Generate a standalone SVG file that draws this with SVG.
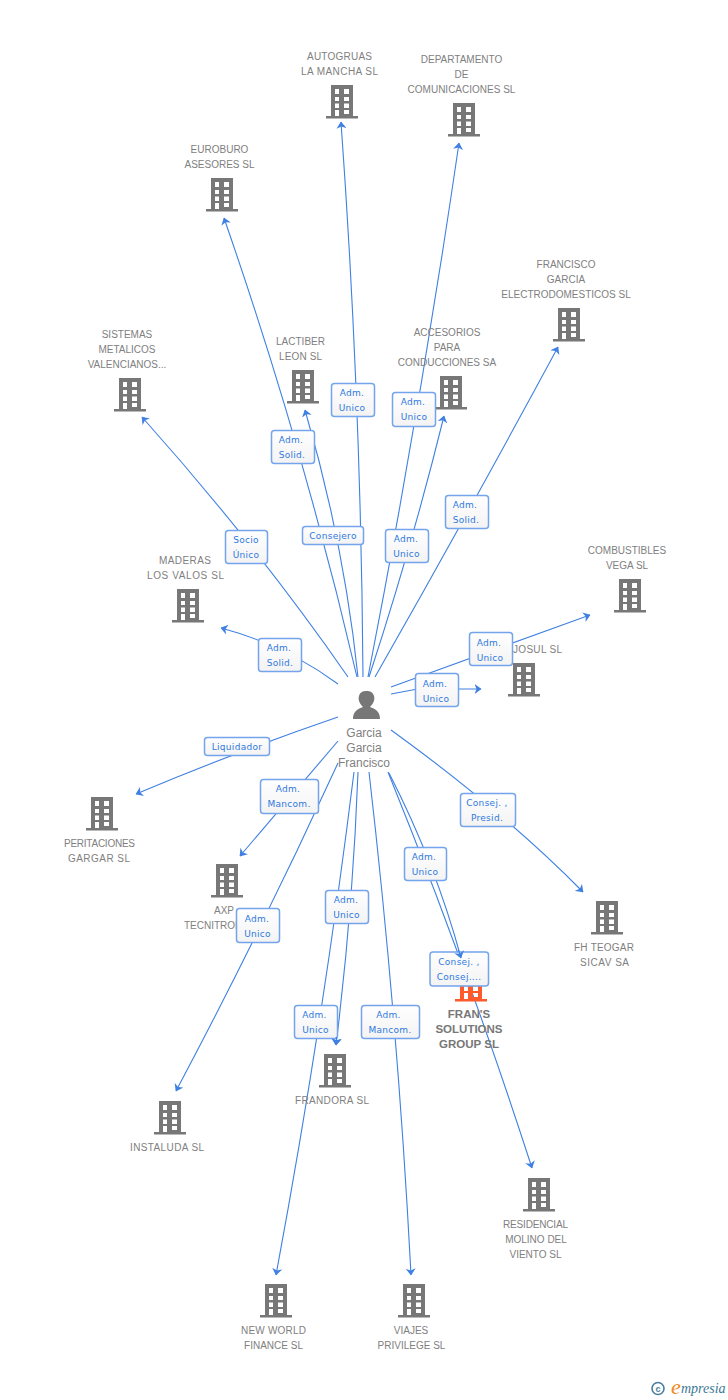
<svg xmlns="http://www.w3.org/2000/svg" width="728" height="1400" viewBox="0 0 728 1400">
<style>
text{font-family:"Liberation Sans",Arial,sans-serif}
.n{font-size:10px;fill:#808080;text-anchor:middle}
.h{font-size:12px;fill:#808080;text-anchor:middle}
.b{font-size:11.5px;font-weight:bold;fill:#777;text-anchor:middle}
.l{font-size:9px;fill:#2f79e0;text-anchor:middle;font-family:"DejaVu Sans",sans-serif;letter-spacing:.3px}
.c{fill:none;stroke:#3f80e2;stroke-width:1.1;marker-end:url(#a)}
.r{fill:url(#g);stroke:#74a4ec;stroke-width:1.5}
</style>
<defs>
<marker id="a" viewBox="0 0 7 10" refX="6.500" refY="5" markerWidth="7" markerHeight="10" markerUnits="userSpaceOnUse" orient="auto"><path d="M0 0L7 5L0 10L2 5Z" fill="#3f80e2"/></marker>
<linearGradient id="g" x1="0" y1="0" x2="0" y2="1"><stop offset="0" stop-color="#fff"/><stop offset="1" stop-color="#f3f3f3"/></linearGradient>
<symbol id="bld" viewBox="0 0 32 34" width="32" height="34" overflow="visible">
<path fill-rule="evenodd" d="M5 0H27V31H32V33.500H0V31H5ZM9 4V9H13V4ZM18 4V9H23V4ZM9 12V16H13V12ZM18 12V16H23V12ZM9 18.500V23H13V18.500ZM18 18.500V23H23V18.500ZM9 25V31H13V25ZM18 25V29H23V25Z"/>
</symbol>
</defs>
<g id="connectors">
<path class="c" d="M363 677Q361 400 341 122"/>
<path class="c" d="M368 677Q420 410 459 143"/>
<path class="c" d="M357 677Q303.500 447 224 218"/>
<path class="c" d="M348 677Q258 547 142 417"/>
<path class="c" d="M358 677Q344 543 305 410"/>
<path class="c" d="M369 677Q412 546 444 416"/>
<path class="c" d="M375 677Q469 512 558 347"/>
<path class="c" d="M391 687L590 615"/>
<path class="c" d="M391 694L415 689.500M459 689L481 689"/>
<path class="c" d="M338 684Q285 645 221 628"/>
<path class="c" d="M338 717Q237 751.500 136 794"/>
<path class="c" d="M338 741L240 856"/>
<path class="c" d="M338 763Q263 927 176 1091"/>
<path class="c" d="M358 772Q353 908 336 1045"/>
<path class="c" d="M354 772Q323 1023 276 1275"/>
<path class="c" d="M369 772Q398 1023 411 1275"/>
<path class="c" d="M388 772Q468 970 532 1168"/>
<path class="c" d="M389 773Q436 865 461 958"/>
<path class="c" d="M391 730Q503 811 583 892"/>
</g>
<g id="n-autogruas"><use href="#bld" x="326" y="85" fill="#777"/><text class="n" x="339.500" y="60" textLength="65">AUTOGRUAS</text><text class="n" x="339.500" y="75" textLength="77">LA MANCHA SL</text></g>
<g id="n-departamento"><use href="#bld" x="448" y="103" fill="#777"/><text class="n" x="461.500" y="63">DEPARTAMENTO</text><text class="n" x="461.500" y="78">DE</text><text class="n" x="461.500" y="93">COMUNICACIONES SL</text></g>
<g id="n-euroburo"><use href="#bld" x="206" y="178" fill="#777"/><text class="n" x="219.500" y="153">EUROBURO</text><text class="n" x="219.500" y="168">ASESORES SL</text></g>
<g id="n-sistemas"><use href="#bld" x="114" y="378" fill="#777"/><text class="n" x="127" y="338">SISTEMAS</text><text class="n" x="127" y="353">METALICOS</text><text class="n" x="127" y="368">VALENCIANOS...</text></g>
<g id="n-lactiber"><use href="#bld" x="287" y="370" fill="#777"/><text class="n" x="300.500" y="345">LACTIBER</text><text class="n" x="300.500" y="360" textLength="43">LEON SL</text></g>
<g id="n-accesorios"><use href="#bld" x="435" y="376" fill="#777"/><text class="n" x="447" y="336">ACCESORIOS</text><text class="n" x="447" y="351">PARA</text><text class="n" x="447" y="366">CONDUCCIONES SA</text></g>
<g id="n-francisco"><use href="#bld" x="553" y="308" fill="#777"/><text class="n" x="566" y="268">FRANCISCO</text><text class="n" x="566" y="283">GARCIA</text><text class="n" x="566" y="298">ELECTRODOMESTICOS SL</text></g>
<g id="n-combustibles"><use href="#bld" x="614" y="579" fill="#777"/><text class="n" x="627" y="554">COMBUSTIBLES</text><text class="n" x="627" y="569">VEGA SL</text></g>
<g id="n-josul"><use href="#bld" x="508" y="663" fill="#777"/><text class="n" x="537.500" y="653" textLength="49">JOSUL SL</text></g>
<g id="n-maderas"><use href="#bld" x="172" y="589" fill="#777"/><text class="n" x="185" y="564" textLength="52">MADERAS</text><text class="n" x="185.500" y="579" textLength="77">LOS VALOS SL</text></g>
<g id="n-peritaciones"><use href="#bld" x="86" y="797" fill="#777"/><text class="n" x="99.500" y="847" textLength="71">PERITACIONES</text><text class="n" x="99" y="862" textLength="62">GARGAR SL</text></g>
<g id="n-axp"><use href="#bld" x="211" y="864" fill="#777"/><text class="n" x="224" y="914">AXP</text><text class="n" x="184" y="929" style="text-anchor:start">TECNITRON</text></g>
<g id="n-instaluda"><use href="#bld" x="154" y="1101" fill="#777"/><text class="n" x="167" y="1151" textLength="74">INSTALUDA SL</text></g>
<g id="n-frandora"><use href="#bld" x="319" y="1054" fill="#777"/><text class="n" x="332" y="1104" textLength="74">FRANDORA SL</text></g>
<g id="n-newworld"><use href="#bld" x="260" y="1284" fill="#777"/><text class="n" x="273.500" y="1334" textLength="65">NEW WORLD</text><text class="n" x="273.500" y="1349">FINANCE SL</text></g>
<g id="n-viajes"><use href="#bld" x="398" y="1284" fill="#777"/><text class="n" x="411" y="1334">VIAJES</text><text class="n" x="411.500" y="1349">PRIVILEGE SL</text></g>
<g id="n-residencial"><use href="#bld" x="523" y="1178" fill="#777"/><text class="n" x="535.500" y="1228" textLength="65">RESIDENCIAL</text><text class="n" x="536" y="1243">MOLINO DEL</text><text class="n" x="535.500" y="1258">VIENTO SL</text></g>
<g id="n-fhteogar"><use href="#bld" x="591" y="901" fill="#777"/><text class="n" x="604" y="951" textLength="60">FH TEOGAR</text><text class="n" x="604.500" y="966" textLength="49">SICAV SA</text></g>
<g id="n-frans"><use href="#bld" x="455" y="968" fill="#ff5a2c"/><text class="b" x="469" y="1018">FRAN'S</text><text class="b" x="469" y="1033">SOLUTIONS</text><text class="b" x="469" y="1048">GROUP SL</text></g>
<g id="n-garcia"><path fill="#777" d="M353 719C353 711 358 709 363 707C359 703 358 699 359 696C360 692 363 691 366.500 691C370 691 373 692 374 696C375 699 374 703 370 707C375 709 380 711 380 719Z"/><text class="h" x="364" y="737">Garcia</text><text class="h" x="364" y="752">Garcia</text><text class="h" x="364" y="767">Francisco</text></g>
<g id="edge-labels">
<g><rect class="r" x="331.500" y="383.500" width="43" height="33" rx="3"/><text class="l" x="352" y="396">Adm.</text><text class="l" x="352" y="411">Unico</text></g>
<g><rect class="r" x="392.500" y="392.500" width="43" height="34" rx="3"/><text class="l" x="413" y="405">Adm.</text><text class="l" x="414" y="420">Unico</text></g>
<g><rect class="r" x="271.500" y="430.500" width="43" height="33" rx="3"/><text class="l" x="291" y="443">Adm.</text><text class="l" x="292" y="458">Solid.</text></g>
<g><rect class="r" x="302.500" y="526.500" width="61" height="18" rx="3"/><text class="l" x="333" y="539">Consejero</text></g>
<g><rect class="r" x="385.500" y="529.500" width="43" height="33" rx="3"/><text class="l" x="406" y="542">Adm.</text><text class="l" x="406.500" y="557">Unico</text></g>
<g><rect class="r" x="445.500" y="495.500" width="43" height="33" rx="3"/><text class="l" x="465" y="508">Adm.</text><text class="l" x="466" y="523">Solid.</text></g>
<g><rect class="r" x="225.500" y="530.500" width="42" height="33" rx="3"/><text class="l" x="246" y="543">Socio</text><text class="l" x="246" y="558">Único</text></g>
<g><rect class="r" x="258.500" y="638.500" width="43" height="33" rx="3"/><text class="l" x="279" y="651">Adm.</text><text class="l" x="280" y="666">Solid.</text></g>
<g><rect class="r" x="469.500" y="632.500" width="43" height="33" rx="3"/><text class="l" x="489" y="646">Adm.</text><text class="l" x="490" y="661">Unico</text></g>
<g><rect class="r" x="415.500" y="673.500" width="43" height="33" rx="3"/><text class="l" x="435" y="687">Adm.</text><text class="l" x="436" y="702">Unico</text></g>
<g><rect class="r" x="204.500" y="737.500" width="65" height="18" rx="3"/><text class="l" x="237" y="750">Liquidador</text></g>
<g><rect class="r" x="260.500" y="779.500" width="58" height="34" rx="3"/><text class="l" x="288" y="792">Adm.</text><text class="l" x="289" y="807">Mancom.</text></g>
<g><rect class="r" x="460.500" y="793.500" width="55" height="33" rx="3"/><text class="l" x="487" y="806">Consej. ,</text><text class="l" x="487" y="821">Presid.</text></g>
<g><rect class="r" x="404.500" y="847.500" width="42" height="33" rx="3"/><text class="l" x="424" y="860">Adm.</text><text class="l" x="425" y="875">Unico</text></g>
<g><rect class="r" x="236.500" y="908.500" width="43" height="34" rx="3"/><text class="l" x="257" y="922">Adm.</text><text class="l" x="257.500" y="937">Unico</text></g>
<g><rect class="r" x="325.500" y="890.500" width="43" height="33" rx="3"/><text class="l" x="346" y="903">Adm.</text><text class="l" x="346.500" y="918">Unico</text></g>
<g><rect class="r" x="430" y="952" width="58.500" height="34" rx="3"/><text class="l" x="459" y="965">Consej. ,</text><text class="l" x="459" y="980">Consej....</text></g>
<g><rect class="r" x="294.500" y="1005.500" width="43" height="33" rx="3"/><text class="l" x="314.500" y="1018">Adm.</text><text class="l" x="315.500" y="1033">Unico</text></g>
<g><rect class="r" x="361.500" y="1005.500" width="58" height="33" rx="3"/><text class="l" x="388.500" y="1018">Adm.</text><text class="l" x="390" y="1033">Mancom.</text></g>
</g>
<g id="connector-tips"><path class="c" d="M458.500 950L461 958"/><path class="c" d="M336.400 1037L336 1045"/></g>
<g id="logo"><circle cx="658" cy="1388.500" r="6" fill="none" stroke="#4a7f9c" stroke-width="1.600"/><text x="658" y="1391.500" font-size="9" font-weight="bold" fill="#4a7f9c" text-anchor="middle">c</text><text x="671" y="1394" font-size="22" font-style="italic" fill="#f08a1d" style="font-family:'Liberation Serif',serif">e</text><text x="681" y="1393" font-size="14" font-style="italic" fill="#3c7a96" style="font-family:'Liberation Serif',serif">mpresia</text></g>
</svg>
